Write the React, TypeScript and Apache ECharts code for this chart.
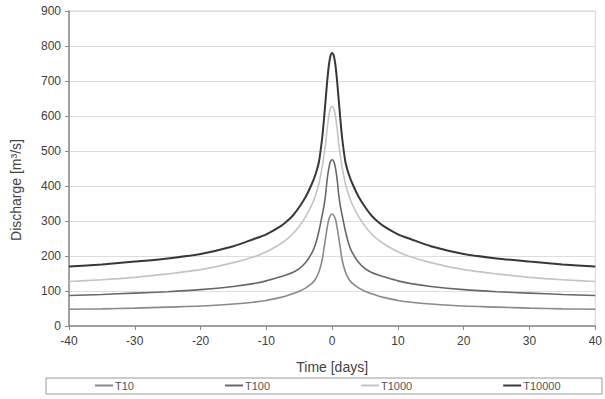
import React, { useEffect, useRef } from "react";
import * as echarts from "echarts";

// half-profiles for t = -40 ... 0 (mirrored for t > 0)
const halfTimes = [-40, -35, -30, -25, -20, -15, -12, -10, -8, -7, -6, -5, -4, -3, -2.5, -2, -1.5, -1.25, -1, -0.75, -0.5, -0.25, 0];
const halfT10 = [48, 49, 51, 54, 57, 63, 68, 73, 81, 86, 92, 99, 109, 123, 135, 155, 190, 222, 252, 282, 305, 316, 320];
const halfT100 = [87, 90, 94, 98, 104, 113, 121, 129, 140, 146, 153, 164, 182, 212, 236, 272, 318, 342, 375, 420, 452, 470, 475];
const halfT1000 = [127, 132, 139, 149, 161, 181, 197, 212, 233, 246, 263, 285, 313, 350, 375, 408, 455, 488, 520, 565, 600, 622, 628];
const halfT10000 = [170, 176, 184, 193, 206, 228, 248, 262, 283, 297, 315, 340, 370, 410, 435, 470, 540, 590, 645, 700, 745, 772, 780];

const times = [...halfTimes, ...halfTimes.slice(0, halfTimes.length - 1).reverse().map((t) => -t)];
const mirror = (h: number[]) => [...h, ...h.slice(0, h.length - 1).reverse()];
const T10 = mirror(halfT10);
const T100 = mirror(halfT100);
const T1000 = mirror(halfT1000);
const T10000 = mirror(halfT10000);

const seriesNames = ["T10", "T100", "T1000", "T10000"];
const seriesValues = [T10, T100, T1000, T10000];
const seriesColors = ["#8a8a8a", "#686868", "#c4c4c4", "#383838"];
const seriesWidths = [1.6, 1.6, 1.6, 2];

const xTicks = { min: -40, max: 40, interval: 10 };
const yTicks = { min: 0, max: 900, interval: 100 };
const xTitle = "Time [days]";
const yTitle = "Discharge [m³/s]";

export default function App() {
  const ref = useRef<HTMLDivElement>(null);
  useEffect(() => {
    if (!ref.current) return;
    const chart = echarts.init(ref.current, undefined, { renderer: "svg" });
    const font = "Liberation Sans, Arial, sans-serif";
    chart.setOption({
      animation: false,
      backgroundColor: "#ffffff",
      textStyle: { fontFamily: font },
      grid: {
        left: 69,
        right: 7,
        top: 11,
        bottom: 73,
        show: true,
        borderColor: "#d4d4d4",
        borderWidth: 1,
      },
      xAxis: {
        type: "value",
        min: xTicks.min,
        max: xTicks.max,
        interval: xTicks.interval,
        name: xTitle,
        nameLocation: "middle",
        nameGap: 34,
        nameTextStyle: { fontFamily: font, fontSize: 14, color: "#444" },
        axisLine: { show: true, onZero: false, lineStyle: { color: "#8a8a8a", width: 1.5 } },
        axisTick: { show: true, length: 4, lineStyle: { color: "#8a8a8a" } },
        axisLabel: { fontFamily: font, fontSize: 12, color: "#404040", margin: 9 },
        splitLine: { show: false },
      },
      yAxis: {
        type: "value",
        min: yTicks.min,
        max: yTicks.max,
        interval: yTicks.interval,
        axisLine: { show: true, onZero: false, lineStyle: { color: "#8a8a8a", width: 1.5 } },
        axisTick: { show: true, length: 4, lineStyle: { color: "#8a8a8a" } },
        axisLabel: { fontFamily: font, fontSize: 12, color: "#404040", margin: 8 },
        splitLine: { show: true, lineStyle: { color: "#dedede", width: 1 } },
      },
      legend: {
        left: 95,
        top: 380,
        itemGap: 91,
        itemWidth: 18,
        itemHeight: 2,
        icon: "rect",
        padding: 0,
        textStyle: { fontFamily: font, fontSize: 11, color: "#555", padding: [0, 0, 0, -3] },
        data: seriesNames,
      },
      graphic: [
        {
          type: "rect",
          shape: { x: 46, y: 378, width: 556, height: 16 },
          style: { fill: "none", stroke: "#9a9a9a", lineWidth: 1 },
          z: -1,
        },
        {
          type: "text",
          x: 16,
          y: 190,
          rotation: Math.PI / 2,
          style: {
            text: yTitle,
            fontFamily: font,
            fontSize: 14,
            fill: "#444",
            align: "center",
            verticalAlign: "middle",
          },
        },
      ],
      series: seriesNames.map((name, i) => ({
        name,
        type: "line",
        data: times.map((t, j) => [t, seriesValues[i][j]]),
        showSymbol: false,
        symbol: "none",
        smooth: 0.25,
        lineStyle: { color: seriesColors[i], width: seriesWidths[i] },
        itemStyle: { color: seriesColors[i] },
      })),
    });
    return () => chart.dispose();
  }, []);
  return (
    <div
      ref={ref}
      style={{ position: "absolute", left: 0, top: 0, width: 605, height: 399 }}
    />
  );
}
